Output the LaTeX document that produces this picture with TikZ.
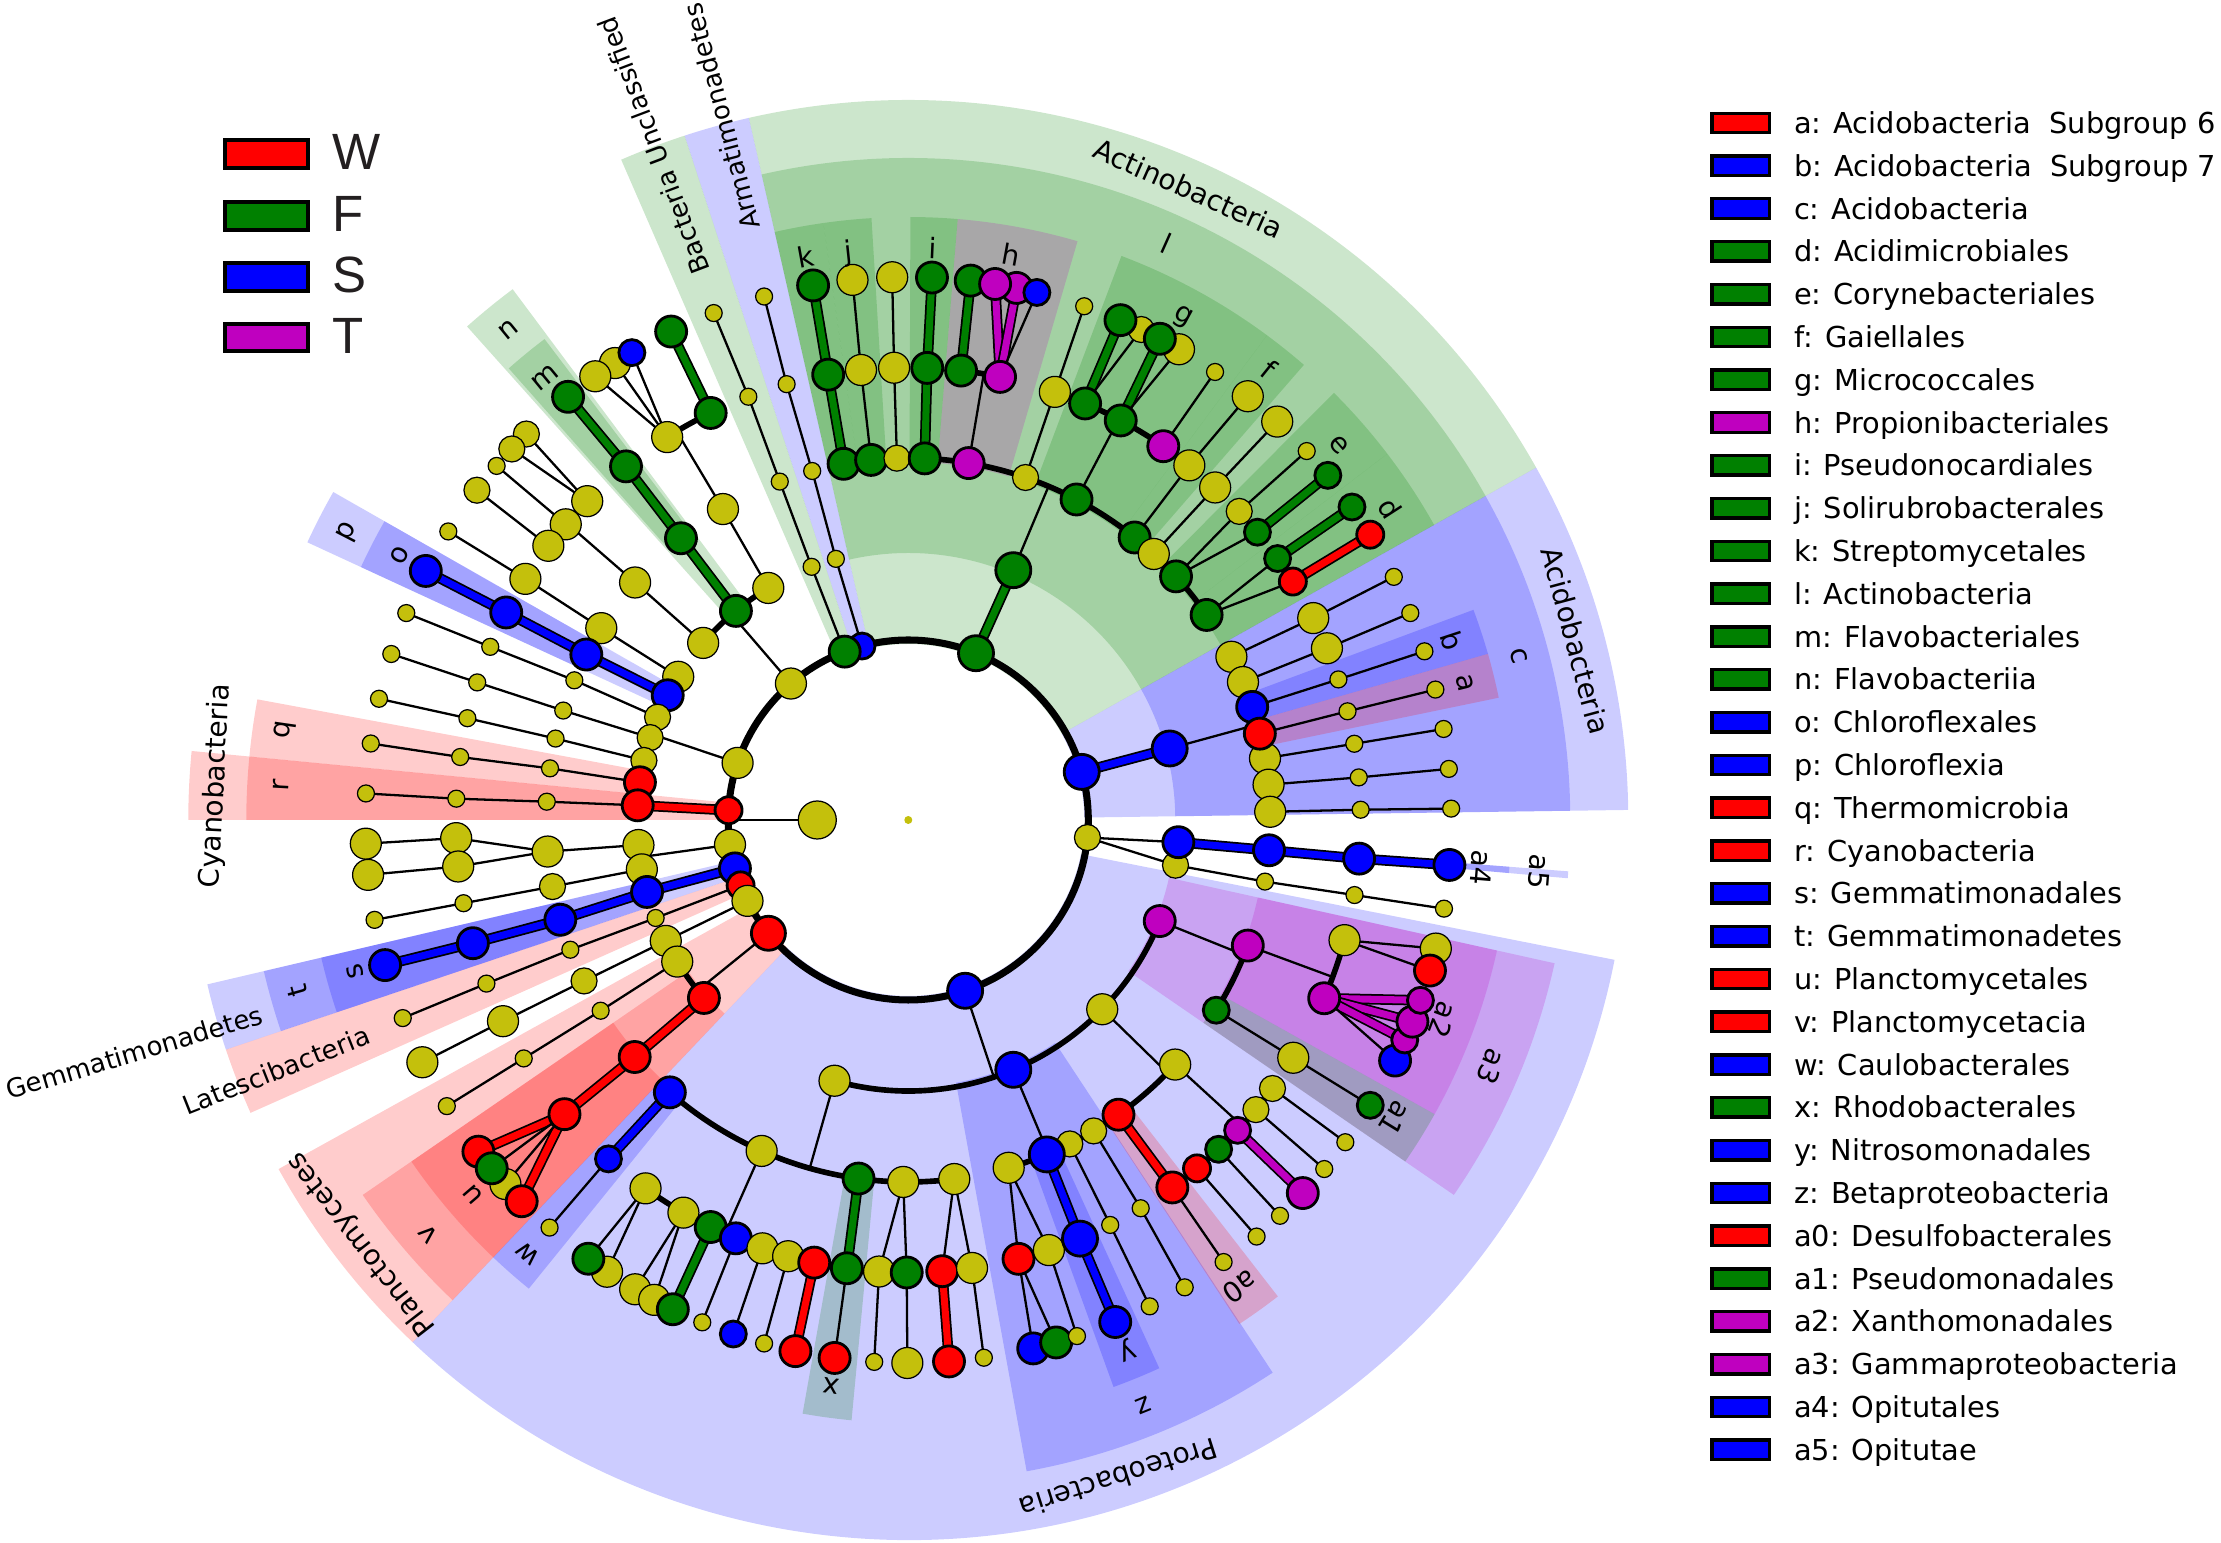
\documentclass[tikz,border=0pt]{standalone}
\usepackage{fontspec}
\setmainfont{DejaVu Sans}
\newfontfamily\arialf{Liberation Sans}
\pgfdeclarelayer{shd}
\pgfdeclarelayer{edg}
\pgfsetlayers{shd,edg,main}
\definecolor{colY}{RGB}{196,192,12}
\definecolor{colG}{RGB}{0,128,0}
\definecolor{colB}{RGB}{0,0,255}
\definecolor{colR}{RGB}{255,0,0}
\definecolor{colM}{RGB}{191,0,191}
\definecolor{tk}{RGB}{35,31,32}
\tikzset{
  nd/.style={circle,draw=black,inner sep=0pt,outer sep=0pt},
  yn/.style={nd,fill=colY,line width=0.35pt,minimum size=#1},
  ys/.style={yn=0.17cm}, ym/.style={yn=0.26cm}, yl/.style={yn=0.31cm}, yk/.style={yn=0.38cm},
  cn/.style 2 args={nd,fill=#1,line width=0.8pt,minimum size=#2},
  gm/.style={cn={colG}{0.26cm}}, gl/.style={cn={colG}{0.31cm}}, gx/.style={cn={colG}{0.35cm}},
  bm/.style={cn={colB}{0.26cm}}, bl/.style={cn={colB}{0.31cm}}, bx/.style={cn={colB}{0.35cm}},
  rm/.style={cn={colR}{0.27cm}}, rl/.style={cn={colR}{0.31cm}}, rx/.style={cn={colR}{0.34cm}},
  mm/.style={cn={colM}{0.26cm}}, ml/.style={cn={colM}{0.31cm}},
  te/.style={draw=black,line width=0.65pt},
  ke/.style={draw=black,line width=0.5pt,double=#1,double distance=2pt},
  ar/.style={draw=black,line width=1.6pt},
  lab/.style={font=\fontsize{8}{9.6}\selectfont,inner sep=0pt,text=black},
  rlab/.style={font=\fontsize{7.4}{9}\selectfont,inner sep=0pt,text=black},
}
\newcommand\ND[4]{\node[#4] (#1) at (#2:#3) {};}
\newcommand\EL[2]{\draw[te] (#1.center) -- (#2.center);}
\newcommand\TK[3]{\draw[ke=#3] (#1.center) -- (#2.center);}
\newcommand\SH[5]{\fill[fill=#1,fill opacity=0.2] (#2:#4) arc[start angle=#2,end angle=#3,radius=#4] -- (#3:#5) arc[start angle=#3,end angle=#2,radius=#5] -- cycle;}
\newcommand\ARC[4]{\draw[ar] (#1.center) arc[start angle=#2,end angle=#3,radius=#4];}
\newcommand\RAD[3]{\coordinate (#1x) at (#2:#3); \draw[te] (#1.center) -- (#1x);}
\newcommand\LB[4]{\node[lab,rotate={#2-90}] (#1) at (#2:#3) {#4};}
\def\La{91}\def\Lb{180}\def\Lc{271}\def\Ld{362}\def\Le{452.5}\def\Lf{543}
\begin{document}
\begin{tikzpicture}[x=0.01cm,y=0.01cm]
\useasboundingbox (-908.3,-723) rectangle (1312.7,820);
% ---------- shading ----------
\begin{pgfonlayer}{shd}
\SH{colB}{0.8}{29.3}{176}{720}
\SH{colG}{29.3}{102.8}{176}{720}
\SH{colB}{102.8}{108.1}{176}{720}
\SH{colG}{108.1}{113.5}{176}{720}
\SH{colR}{174.5}{180}{176}{720}
\SH{colB}{193.2}{198.6}{176}{720}
\SH{colR}{198.6}{204.0}{176}{720}
\SH{colR}{209.0}{226.5}{176}{720}
\SH{colB}{226.5}{348.8}{176}{720}
\SH{colB}{0.8}{29.3}{267}{662}
\SH{colG}{29.3}{102.8}{267}{662}
\SH{colG}{126.7}{131.8}{267}{662}
\SH{colB}{150.3}{155.2}{267}{662}
\SH{colR}{169.5}{174.5}{267}{662}
\SH{colR}{174.5}{180}{267}{662}
\SH{colB}{193.2}{198.6}{267}{662}
\SH{colR}{214.5}{226.5}{267}{662}
\SH{colB}{280.3}{303.4}{267}{662}
\SH{colM}{325.5}{347.5}{267}{662}
\SH{colB}{354.95}{355.55}{267}{662}
\SH{colR}{11.7}{16.0}{358}{603}
\SH{colB}{16.0}{20.4}{358}{603}
\SH{colG}{29.3}{37.4}{358}{603}
\SH{colG}{37.4}{45.1}{358}{603}
\SH{colG}{49.0}{53.5}{358}{603}
\SH{colG}{53.5}{69.3}{358}{603}
\SH{colM}{73.7}{85.3}{358}{603}
\SH{colG}{85.3}{89.8}{358}{603}
\SH{colG}{93.5}{98.1}{358}{603}
\SH{colG}{98.1}{102.8}{358}{603}
\SH{colG}{127.1}{131.5}{358}{603}
\SH{colB}{150.3}{155.2}{358}{603}
\SH{colB}{193.2}{198.6}{358}{603}
\SH{colR}{214.5}{226.5}{358}{603}
\SH{colB}{226.5}{231.0}{358}{603}
\SH{colG}{259.9}{264.6}{358}{603}
\SH{colB}{289.9}{294.6}{358}{603}
\SH{colR}{303.3}{307.8}{358}{603}
\SH{colG}{325.5}{330.8}{358}{603}
\SH{colM}{330.8}{347.5}{358}{603}
\SH{colB}{354.95}{355.55}{358}{603}
\end{pgfonlayer}
% ---------- nodes ----------
\node[fill=colY,circle,inner sep=0pt,minimum size=0.08cm] (root) at (0,0) {};
\ND{K}{180}{\La}{yk}
\ND{P1}{15.5}{\Lb}{bx}\ND{P2}{67.9}{\Lb}{gx}\ND{P3}{104.9}{\Lb}{bm}\ND{P4}{110.7}{\Lb}{gl}
\ND{P5}{130.7}{\Lb}{yl}\ND{P6}{161.5}{\Lb}{yl}\ND{P7}{176.9}{\Lb}{rm}\ND{P8}{187.9}{\Lb}{yl}
\ND{P9}{195.6}{\Lb}{bl}\ND{P10}{201.3}{\Lb}{rm}\ND{P11}{206.7}{\Lb}{yl}\ND{P12}{219}{\Lb}{rx}
\ND{P13}{288.4}{\Lb}{bx}\ND{P14}{354.4}{\Lb}{ym}
% Acidobacteria
\ND{Cc}{15.3}{\Lc}{bx}
\ND{A41}{26.8}{\Ld}{yl}\ND{A42}{22.4}{\Ld}{yl}\ND{A43}{18.2}{\Ld}{bl}\ND{A45}{9.8}{\Ld}{yl}\ND{A46}{5.6}{\Ld}{yl}\ND{A47}{1.3}{\Ld}{yl}\ND{A44}{13.8}{\Ld}{rl}
\ND{A51}{26.5}{\Le}{yl}\ND{A52}{22.3}{\Le}{yl}\ND{A53}{18.1}{\Le}{ys}\ND{A54}{13.9}{\Le}{ys}\ND{A55}{9.7}{\Le}{ys}\ND{A56}{5.4}{\Le}{ys}\ND{A57}{1.3}{\Le}{ys}
\ND{A61}{26.6}{\Lf}{ys}\ND{A62}{22.4}{\Lf}{ys}\ND{A63}{18.1}{\Lf}{ys}\ND{A64}{13.9}{\Lf}{ys}\ND{A65}{9.65}{\Lf}{ys}\ND{A66}{5.4}{\Lf}{ys}\ND{A67}{1.2}{\Lf}{ys}
% Actinobacteria
\ND{Cl}{67.2}{\Lc}{gx}
\ND{K4}{100.3}{\Ld}{gl}\ND{J4}{95.9}{\Ld}{gl}\ND{Ya4}{91.8}{\Ld}{ym}\ND{I4}{87.4}{\Ld}{gl}\ND{H4}{80.4}{\Ld}{ml}\ND{Yb4}{71.1}{\Ld}{ym}\ND{G4}{62.3}{\Ld}{gl}\ND{F4}{51.3}{\Ld}{gl}\ND{Yc4}{47.3}{\Ld}{yl}\ND{E4}{42.3}{\Ld}{gl}\ND{D4}{34.5}{\Ld}{gl}
\ND{K5}{100.2}{\Le}{gl}\ND{J5}{96.0}{\Le}{yl}\ND{Ya5}{91.8}{\Le}{yl}\ND{I5}{87.6}{\Le}{gl}\ND{Hg5}{83.3}{\Le}{gl}\ND{Hm5}{78.3}{\Le}{ml}\ND{Yb5}{71.1}{\Le}{yl}\ND{Ga5}{67.0}{\Le}{gl}\ND{Gb5}{62.0}{\Le}{gl}\ND{Gm5}{55.7}{\Le}{ml}\ND{F5}{51.6}{\Le}{yl}\ND{Yc5}{47.3}{\Le}{yl}\ND{Ey5}{43.0}{\Le}{ym}\ND{E5}{39.5}{\Le}{gm}\ND{D5}{35.3}{\Le}{gm}\ND{Dr5}{31.8}{\Le}{rm}
\ND{K6}{100.1}{\Lf}{gl}\ND{J6}{95.9}{\Lf}{yl}\ND{Ya6}{91.7}{\Lf}{yl}\ND{I6}{87.5}{\Lf}{gl}\ND{Hg6}{83.4}{\Lf}{gl}\ND{Hm6b}{78.5}{\Lf}{ml}\ND{Hm6a}{80.8}{\Lf}{ml}\ND{Hb6}{76.3}{\Lf}{bm}\ND{Yb6}{71.1}{\Lf}{ys}\ND{Gy6}{64.6}{\Lf}{ym}\ND{Ga6}{67.0}{\Lf}{gl}\ND{Gy6b}{60.1}{\Lf}{yl}\ND{Gb6}{62.4}{\Lf}{gl}\ND{Gs6}{55.6}{\Lf}{ys}\ND{F6}{51.3}{\Lf}{yl}\ND{Yc6}{47.2}{\Lf}{yl}\ND{Ey6}{42.8}{\Lf}{ys}\ND{E6}{39.4}{\Lf}{gm}\ND{D6}{35.2}{\Lf}{gm}\ND{Dr6}{31.7}{\Lf}{rm}
% Armatimonadetes, Bacteria unclassified
\ND{Ar3}{105.5}{\Lc}{ys}\ND{Ar4}{105.4}{\Ld}{ys}\ND{Ar5}{105.6}{\Le}{ys}\ND{Ar6}{105.4}{\Lf}{ys}
\ND{Bu3}{110.9}{\Lc}{ys}\ND{Bu4}{110.8}{\Ld}{ys}\ND{Bu5}{110.7}{\Le}{ys}\ND{Bu6}{111.0}{\Lf}{ys}
% Bacteroidetes
\ND{Ba3}{121.1}{\Lc}{yl}\ND{N3}{129.5}{\Lc}{gl}\ND{Bc3}{139.2}{\Lc}{yl}
\ND{Ba4}{120.8}{\Ld}{yl}\ND{M4}{128.9}{\Ld}{gl}\ND{Bc4}{139.0}{\Ld}{yl}
\ND{Bg5}{115.9}{\Le}{gl}\ND{Ba5}{122.2}{\Le}{yl}\ND{M5}{128.6}{\Le}{gl}\ND{Bc5a}{135.2}{\Le}{yl}\ND{Bc5b}{139.2}{\Le}{yl}\ND{Bc5c}{142.7}{\Le}{yl}
\ND{Bg6}{115.9}{\Lf}{gl}\ND{Ba6a}{122.7}{\Lf}{yl}\ND{Ba6b}{125.2}{\Lf}{yl}\ND{Bb6}{120.6}{\Lf}{bm}\ND{M6}{128.8}{\Lf}{gl}\ND{Bc6a}{134.7}{\Lf}{ym}\ND{Bc6b}{136.9}{\Lf}{ym}\ND{Bc6c}{139.3}{\Lf}{ys}\ND{Bc6d}{142.6}{\Lf}{ym}
% Chloroflexi
\ND{Ca3}{148.1}{\Lc}{yl}\ND{Pp3}{152.6}{\Lc}{bl}\ND{Cc3}{157.7}{\Lc}{ym}\ND{Cd3}{162.3}{\Lc}{ym}\ND{Ce3}{167.3}{\Lc}{ym}\ND{Q3}{172.0}{\Lc}{rl}
\ND{Ca4}{148.0}{\Ld}{yl}\ND{O4}{152.8}{\Ld}{bl}\ND{Cc4}{157.3}{\Ld}{ys}\ND{Cd4}{162.4}{\Ld}{ys}\ND{Ce4}{167.0}{\Ld}{ys}\ND{Q4}{171.8}{\Ld}{ys}
\ND{Ca5}{147.8}{\Le}{yl}\ND{O5}{152.7}{\Le}{bl}\ND{Cc5}{157.5}{\Le}{ys}\ND{Cd5}{162.3}{\Le}{ys}\ND{Ce5}{167.0}{\Le}{ys}\ND{Q5}{172.0}{\Le}{ys}
\ND{Ca6}{147.9}{\Lf}{ys}\ND{O6}{152.7}{\Lf}{bl}\ND{Cc6}{157.6}{\Lf}{ys}\ND{Cd6}{162.2}{\Lf}{ys}\ND{Ce6}{167.1}{\Lf}{ys}\ND{Q6}{171.9}{\Lf}{ys}
% Cyanobacteria
\ND{R3}{176.9}{\Lc}{rl}\ND{R4}{177.1}{\Ld}{ys}\ND{R5}{177.3}{\Le}{ys}\ND{R6}{177.2}{\Lf}{ys}
% unnamed phylum 187.9
\ND{Ua3}{185.3}{\Lc}{yl}\ND{Ub3}{190.5}{\Lc}{yl}\ND{Ua4}{185.0}{\Ld}{yl}\ND{Ub4}{190.6}{\Ld}{ym}
\ND{Ua5}{182.3}{\Le}{yl}\ND{Ub5}{185.9}{\Le}{yl}\ND{Uc5}{190.6}{\Le}{ys}
\ND{Ua6}{182.5}{\Lf}{yl}\ND{Ub6}{185.8}{\Lf}{yl}\ND{Uc6}{190.6}{\Lf}{ys}
% Gemmatimonadetes, Latescibacteria, phylum 206.7
\ND{T3}{195.4}{\Lc}{bl}\ND{S4}{196.0}{\Ld}{bl}\ND{S5}{195.8}{\Le}{bl}\ND{S6}{195.5}{\Lf}{bl}
\ND{Lt3}{201.2}{\Lc}{ys}\ND{Lt4}{201.0}{\Ld}{ys}\ND{Lt5}{201.2}{\Le}{ys}\ND{Lt6}{201.4}{\Lf}{ys}
\ND{Vy3}{206.5}{\Lc}{yl}\ND{Vy4}{206.4}{\Ld}{ym}\ND{Vy5}{206.4}{\Le}{yl}\ND{Vy6}{206.5}{\Lf}{yl}
% Planctomycetes
\ND{Py3}{211.5}{\Lc}{yl}\ND{Py4}{211.8}{\Ld}{ys}\ND{Py5}{211.8}{\Le}{ys}\ND{Py6}{211.8}{\Lf}{ys}
\ND{V3}{221.05}{\Lc}{rl}\ND{U4}{220.9}{\Ld}{rl}\ND{U5}{220.55}{\Le}{rl}
\ND{U6a}{217.65}{\Lf}{rl}\ND{U6y}{222.1}{\Lf}{yl}\ND{U6g}{219.9}{\Lf}{gl}\ND{U6b}{224.6}{\Lf}{rl}
% Proteobacteria
\ND{Al3}{254.2}{\Lc}{yl}\ND{Z3}{292.8}{\Lc}{bx}\ND{De3}{315.7}{\Lc}{yl}\ND{Ga3}{338.1}{\Lc}{ml}
\ND{W4}{228.8}{\Ld}{bl}\ND{Aa4}{246.1}{\Ld}{yl}\ND{X4}{262.1}{\Ld}{gl}\ND{Ab4}{269.2}{\Ld}{yl}\ND{Ac4}{277.3}{\Ld}{yl}
\ND{W5}{228.5}{\Le}{bm}\ND{Aa5}{234.5}{\Le}{yl}\ND{Ab5}{240.2}{\Le}{yl}\ND{Ag5}{244.1}{\Le}{gl}\ND{Abl5}{247.6}{\Le}{bl}\ND{Ac5}{251.2}{\Le}{yl}\ND{Ad5}{254.6}{\Le}{yl}\ND{Arr5}{258.0}{\Le}{rl}
\ND{X5}{262.2}{\Le}{gl}\ND{Ae5}{266.3}{\Le}{yl}\ND{Ag25}{269.8}{\Le}{gl}\ND{Arr25}{274.3}{\Le}{rl}\ND{Af5}{278.1}{\Le}{yl}
\ND{W6}{228.65}{\Lf}{ys}\ND{Aa6}{236.3}{\Lf}{yl}\ND{Ag6}{233.9}{\Lf}{gl}\ND{Ab6}{239.8}{\Lf}{yl}\ND{Ac6}{242.1}{\Lf}{yl}\ND{Ag26}{244.3}{\Lf}{gl}\ND{As61}{247.7}{\Lf}{ys}\ND{Abl6}{251.2}{\Lf}{bm}\ND{As62}{254.6}{\Lf}{ys}\ND{Arr6}{258.0}{\Lf}{rl}
\ND{X6}{262.2}{\Lf}{rl}\ND{As63}{266.4}{\Lf}{ys}\ND{Ay6}{269.9}{\Lf}{yl}\ND{Arr26}{274.3}{\Lf}{rl}\ND{As64}{278.0}{\Lf}{ys}
\ND{Be4a}{286.1}{\Ld}{yl}\ND{Be4c}{296.5}{\Ld}{ym}\ND{Be4d}{300.8}{\Ld}{ym}\ND{Y4}{292.5}{\Ld}{bx}
\ND{Be5r}{284.1}{\Le}{rl}\ND{Be5y}{288.1}{\Le}{yl}\ND{Y5}{292.3}{\Le}{bx}\ND{Be5c}{296.5}{\Le}{ys}\ND{Be5d}{300.9}{\Le}{ys}
\ND{Be6b}{283.3}{\Lf}{bl}\ND{Be6g}{285.8}{\Lf}{gl}\ND{Be6s}{288.1}{\Lf}{ys}\ND{Y6}{292.4}{\Lf}{bl}\ND{Be6c}{296.4}{\Lf}{ys}\ND{Be6d}{300.6}{\Lf}{ys}
\ND{A04}{305.5}{\Ld}{rl}\ND{De4}{317.5}{\Ld}{yl}
\ND{A05}{305.7}{\Le}{rl}\ND{Dl5b}{323.6}{\Le}{ym}\ND{Dl5a}{320.2}{\Le}{ym}\ND{Dl5r}{309.65}{\Le}{rm}\ND{Dl5g}{313.3}{\Le}{gm}\ND{Dl5m}{316.7}{\Le}{mm}
\ND{A06}{305.5}{\Lf}{ys}\ND{Dl6a}{309.9}{\Lf}{ys}\ND{Dl6b}{313.2}{\Lf}{ys}\ND{Dl6m}{316.6}{\Lf}{ml}\ND{Dl6c}{320.0}{\Lf}{ys}\ND{Dl6d}{323.6}{\Lf}{ys}
\ND{A14}{328.3}{\Ld}{gm}\ND{A24}{339.7}{\Ld}{ml}
\ND{A15}{328.3}{\Le}{yl}\ND{A25y}{344.6}{\Le}{yl}\ND{A25m}{336.8}{\Le}{ml}
\ND{A16}{328.3}{\Lf}{gm}\ND{A26y}{346.3}{\Lf}{yl}\ND{A26r}{343.9}{\Lf}{rl}\ND{A26b}{333.7}{\Lf}{bl}\ND{A26m3}{336.1}{\Lf}{mm}\ND{A26m2}{338.2}{\Lf}{ml}\ND{A26m1}{340.6}{\Lf}{mm}
% Verrucomicrobia
\ND{VY3}{350.4}{\Lc}{ym}\ND{VB3}{355.3}{\Lc}{bl}\ND{VY4}{350.2}{\Ld}{ys}\ND{VB4}{355.2}{\Ld}{bl}
\ND{VY5}{350.45}{\Le}{ys}\ND{VB5}{355.1}{\Le}{bl}\ND{VY6}{350.6}{\Lf}{ys}\ND{VB6}{355.25}{\Lf}{bl}
% ---------- edges ----------
\begin{pgfonlayer}{edg}
\draw[draw=black,line width=2pt] (root.center) circle[radius=180];
\coordinate (Kc) at (180:\Lb); \draw[te] (K.center) -- (Kc);
\TK{P1}{Cc}{colB}\TK{P2}{Cl}{colG}
\EL{P3}{Ar3}\EL{Ar3}{Ar4}\EL{Ar4}{Ar5}\EL{Ar5}{Ar6}
\EL{P4}{Bu3}\EL{Bu3}{Bu4}\EL{Bu4}{Bu5}\EL{Bu5}{Bu6}
\ARC{A47}{1.3}{26.8}{\Ld}\RAD{Cc}{15.3}{\Ld}
\EL{A41}{A51}\EL{A51}{A61}\EL{A42}{A52}\EL{A52}{A62}\EL{A43}{A53}\EL{A53}{A63}\EL{A44}{A54}\EL{A54}{A64}
\EL{A45}{A55}\EL{A55}{A65}\EL{A46}{A56}\EL{A56}{A66}\EL{A47}{A57}\EL{A57}{A67}
\ARC{D4}{34.5}{100.3}{\Ld}\RAD{Cl}{67.2}{\Ld}
\TK{K4}{K5}{colG}\TK{K5}{K6}{colG}\EL{J4}{J5}\EL{J5}{J6}\EL{Ya4}{Ya5}\EL{Ya5}{Ya6}\TK{I4}{I5}{colG}\TK{I5}{I6}{colG}
\ARC{Hm5}{78.3}{83.3}{\Le}\RAD{H4}{80.4}{\Le}
\TK{Hg5}{Hg6}{colG}\TK{Hm5}{Hm6a}{colM}\TK{Hm5}{Hm6b}{colM}\EL{Hm5}{Hb6}
\EL{Yb4}{Yb5}\EL{Yb5}{Yb6}
\ARC{Gm5}{55.7}{67.0}{\Le}\RAD{G4}{62.3}{\Le}
\TK{Ga5}{Ga6}{colG}\EL{Ga5}{Gy6}\TK{Gb5}{Gb6}{colG}\EL{Gb5}{Gy6b}\EL{Gm5}{Gs6}
\EL{F4}{F5}\EL{F5}{F6}\EL{Yc4}{Yc5}\EL{Yc5}{Yc6}
\EL{E4}{Ey5}\EL{Ey5}{Ey6}\EL{E4}{E5}\TK{E5}{E6}{colG}
\EL{D4}{D5}\TK{D5}{D6}{colG}\EL{D4}{Dr5}\TK{Dr5}{Dr6}{colR}
\ARC{Ba3}{121.1}{139.2}{\Lc}\RAD{P5}{130.7}{\Lc}
\EL{Ba3}{Ba4}\ARC{Bg5}{115.9}{122.2}{\Le}\RAD{Ba4}{120.8}{\Le}
\TK{Bg5}{Bg6}{colG}\EL{Ba5}{Bb6}\EL{Ba5}{Ba6a}\EL{Ba5}{Ba6b}
\TK{N3}{M4}{colG}\TK{M4}{M5}{colG}\TK{M5}{M6}{colG}
\EL{Bc3}{Bc4}\ARC{Bc5a}{135.2}{142.7}{\Le}\RAD{Bc4}{139.0}{\Le}
\EL{Bc5a}{Bc6a}\EL{Bc5a}{Bc6b}\EL{Bc5b}{Bc6c}\EL{Bc5c}{Bc6d}
\ARC{Ca3}{148.1}{172.0}{\Lc}\RAD{P6}{161.5}{\Lc}
\EL{Ca3}{Ca4}\EL{Ca4}{Ca5}\EL{Ca5}{Ca6}
\TK{Pp3}{O4}{colB}\TK{O4}{O5}{colB}\TK{O5}{O6}{colB}
\EL{Cc3}{Cc4}\EL{Cc4}{Cc5}\EL{Cc5}{Cc6}\EL{Cd3}{Cd4}\EL{Cd4}{Cd5}\EL{Cd5}{Cd6}
\EL{Ce3}{Ce4}\EL{Ce4}{Ce5}\EL{Ce5}{Ce6}\EL{Q3}{Q4}\EL{Q4}{Q5}\EL{Q5}{Q6}
\TK{P7}{R3}{colR}\EL{R3}{R4}\EL{R4}{R5}\EL{R5}{R6}
\ARC{Ua3}{185.3}{190.5}{\Lc}\RAD{P8}{187.9}{\Lc}
\EL{Ua3}{Ua4}\EL{Ua4}{Ua5}\EL{Ua4}{Ub5}\EL{Ua5}{Ua6}\EL{Ub5}{Ub6}
\EL{Ub3}{Ub4}\EL{Ub4}{Uc5}\EL{Uc5}{Uc6}
\TK{P9}{T3}{colB}\TK{T3}{S4}{colB}\TK{S4}{S5}{colB}\TK{S5}{S6}{colB}
\EL{P10}{Lt3}\EL{Lt3}{Lt4}\EL{Lt4}{Lt5}\EL{Lt5}{Lt6}
\EL{P11}{Vy3}\EL{Vy3}{Vy4}\EL{Vy4}{Vy5}\EL{Vy5}{Vy6}
\ARC{Py3}{211.5}{221.05}{\Lc}\RAD{P12}{219}{\Lc}
\EL{Py3}{Py4}\EL{Py4}{Py5}\EL{Py5}{Py6}
\TK{V3}{U4}{colR}\TK{U4}{U5}{colR}\TK{U5}{U6a}{colR}\TK{U5}{U6b}{colR}\EL{U5}{U6g}\EL{U5}{U6y}
\ARC{Al3}{254.2}{338.1}{\Lc}\RAD{P13}{288.4}{\Lc}
\ARC{W4}{228.8}{277.3}{\Ld}\RAD{Al3}{254.2}{\Ld}
\TK{W4}{W5}{colB}\EL{W5}{W6}
\ARC{Aa5}{234.5}{258.0}{\Le}\RAD{Aa4}{246.1}{\Le}
\EL{Aa5}{Ag6}\EL{Aa5}{Aa6}\EL{Ab5}{Ab6}\EL{Ab5}{Ac6}\TK{Ag5}{Ag26}{colG}\EL{Abl5}{As61}\EL{Ac5}{Abl6}\EL{Ad5}{As62}\TK{Arr5}{Arr6}{colR}
\TK{X4}{X5}{colG}\EL{X5}{X6}
\EL{Ab4}{Ae5}\EL{Ab4}{Ag25}\EL{Ae5}{As63}\EL{Ag25}{Ay6}
\EL{Ac4}{Arr25}\EL{Ac4}{Af5}\TK{Arr25}{Arr26}{colR}\EL{Af5}{As64}
\ARC{Be4a}{286.1}{300.8}{\Ld}\RAD{Z3}{292.8}{\Ld}
\EL{Be4a}{Be5r}\EL{Be4a}{Be5y}\EL{Be5r}{Be6b}\EL{Be5r}{Be6g}\EL{Be5y}{Be6s}
\TK{Y4}{Y5}{colB}\TK{Y5}{Y6}{colB}
\EL{Be4c}{Be5c}\EL{Be5c}{Be6c}\EL{Be4d}{Be5d}\EL{Be5d}{Be6d}
\ARC{A04}{305.5}{317.5}{\Ld}\RAD{De3}{315.7}{\Ld}
\TK{A04}{A05}{colR}\EL{A05}{A06}
\ARC{Dl5r}{309.65}{323.6}{\Le}\RAD{De4}{317.5}{\Le}
\EL{Dl5r}{Dl6a}\EL{Dl5g}{Dl6b}\TK{Dl5m}{Dl6m}{colM}\EL{Dl5a}{Dl6c}\EL{Dl5b}{Dl6d}
\ARC{A14}{328.3}{339.7}{\Ld}\RAD{Ga3}{338.1}{\Ld}
\EL{A14}{A15}\EL{A15}{A16}
\ARC{A25m}{336.8}{344.6}{\Le}\RAD{A24}{339.7}{\Le}
\EL{A25y}{A26y}\EL{A25y}{A26r}\TK{A25m}{A26m1}{colM}\TK{A25m}{A26m2}{colM}\TK{A25m}{A26m3}{colM}\EL{A25m}{A26b}
\EL{P14}{VY3}\EL{P14}{VB3}
\TK{VB3}{VB4}{colB}\TK{VB4}{VB5}{colB}\TK{VB5}{VB6}{colB}
\EL{VY3}{VY4}\EL{VY4}{VY5}\EL{VY5}{VY6}
\end{pgfonlayer}
% ---------- clade labels ----------
\LB{la}{13.8}{573}{a}\LB{lb}{18.2}{573}{b}\LB{lc}{15.0}{632}{c}\LB{ld}{32.9}{574}{d}
\LB{le}{41.1}{571}{e}\LB{lf}{51.3}{577}{f}\LB{lg}{61.4}{573}{g}\LB{lh}{79.7}{575}{h}
\LB{li}{87.5}{573}{i}\LB{lj}{96.0}{570}{j}\LB{lk}{100.3}{573}{k}\LB{ll}{65.9}{632}{l}
\LB{lm}{129.4}{572}{m}\LB{ln}{129.2}{632}{n}\LB{lo}{152.5}{573}{o}\LB{lp}{152.8}{630}{p}
\LB{lq}{171.8}{630}{q}\LB{lr}{176.8}{628}{r}\LB{ls}{195.3}{574}{s}\LB{lt}{195.6}{634}{t}
\LB{lu}{220.7}{574}{u}\LB{lv}{220.8}{634}{v}\LB{lw}{228.7}{577}{w}\LB{lx}{262.2}{571}{x}
\LB{ly}{292.4}{573}{y}\LB{lz}{291.9}{631}{z}\LB{la0}{305.4}{573}{a0}\LB{la1}{328.5}{571}{a1}
\LB{la2}{339.5}{571}{a2}\LB{la3}{337.1}{633}{a3}\LB{la4}{355.2}{575}{a4}\LB{la5}{355.3}{633}{a5}
\LB{tAcido}{15.05}{691}{Acidobacteria}
\LB{tActino}{66.05}{691}{Actinobacteria}
\LB{tProteo}{287.7}{691}{Proteobacteria}
\LB{tPlancto}{217.8}{692}{Planctomycetes}
\LB{tCyano}{177.2}{693}{Cyanobacteria}
\node[rlab,rotate=110.7] (tBU) at (110.7:721) {Bacteria Unclassified};
\node[rlab,rotate=104.9] (tArm) at (104.9:728) {Armatimonadetes};
\node[rlab,rotate=16.7] (tGem) at (196.7:808) {Gemmatimonadetes};
\node[rlab,rotate=21.6] (tLat) at (201.6:680) {Latescibacteria};
% ---------- group legend ----------
\foreach \g/\cl/\yy [count=\i] in {W/colR/665.8, F/colG/604.2, S/colB/542.8, T/colM/482.5}{
  \node[draw=black,line width=1.15pt,fill=\cl,minimum width=0.827cm,minimum height=0.277cm,inner sep=0pt] (gb\i) at (-641.6,\yy) {};
  \node[anchor=base west,inner sep=0pt,font=\arialf\fontsize{14.5}{16}\selectfont,text=tk] (gt\i) at (-576.6,\yy-15.8) {\g};
}
% ---------- clade legend ----------
\foreach \tx/\cl [count=\i] in {a: Acidobacteria\ \ Subgroup 6/colR, b: Acidobacteria\ \ Subgroup 7/colB, c: Acidobacteria/colB, d: Acidimicrobiales/colG, e: Corynebacteriales/colG, f: Gaiellales/colG, g: Micrococcales/colG, h: Propionibacteriales/colM, i: Pseudonocardiales/colG, j: Solirubrobacterales/colG, k: Streptomycetales/colG, l: Actinobacteria/colG, m: Flavobacteriales/colG, n: Flavobacteriia/colG, o: Chloroflexales/colB, p: Chloroflexia/colB, q: Thermomicrobia/colR, r: Cyanobacteria/colR, s: Gemmatimonadales/colB, t: Gemmatimonadetes/colB, u: Planctomycetales/colR, v: Planctomycetacia/colR, w: Caulobacterales/colB, x: Rhodobacterales/colG, y: Nitrosomonadales/colB, z: Betaproteobacteria/colB, a0: Desulfobacterales/colR, a1: Pseudomonadales/colG, a2: Xanthomonadales/colM, a3: Gammaproteobacteria/colM, a4: Opitutales/colB, a5: Opitutae/colB}{
  \node[draw=black,line width=0.95pt,fill=\cl,minimum width=0.575cm,minimum height=0.195cm,inner sep=0pt] (lgb\i) at (832.5,{697-42.8*(\i-1)}) {};
  \node[anchor=base west,inner sep=0pt,font=\fontsize{8.2}{10}\selectfont] (lgt\i) at (885,{686.4-42.8*(\i-1)}) {\tx};
}
\end{tikzpicture}
\end{document}
